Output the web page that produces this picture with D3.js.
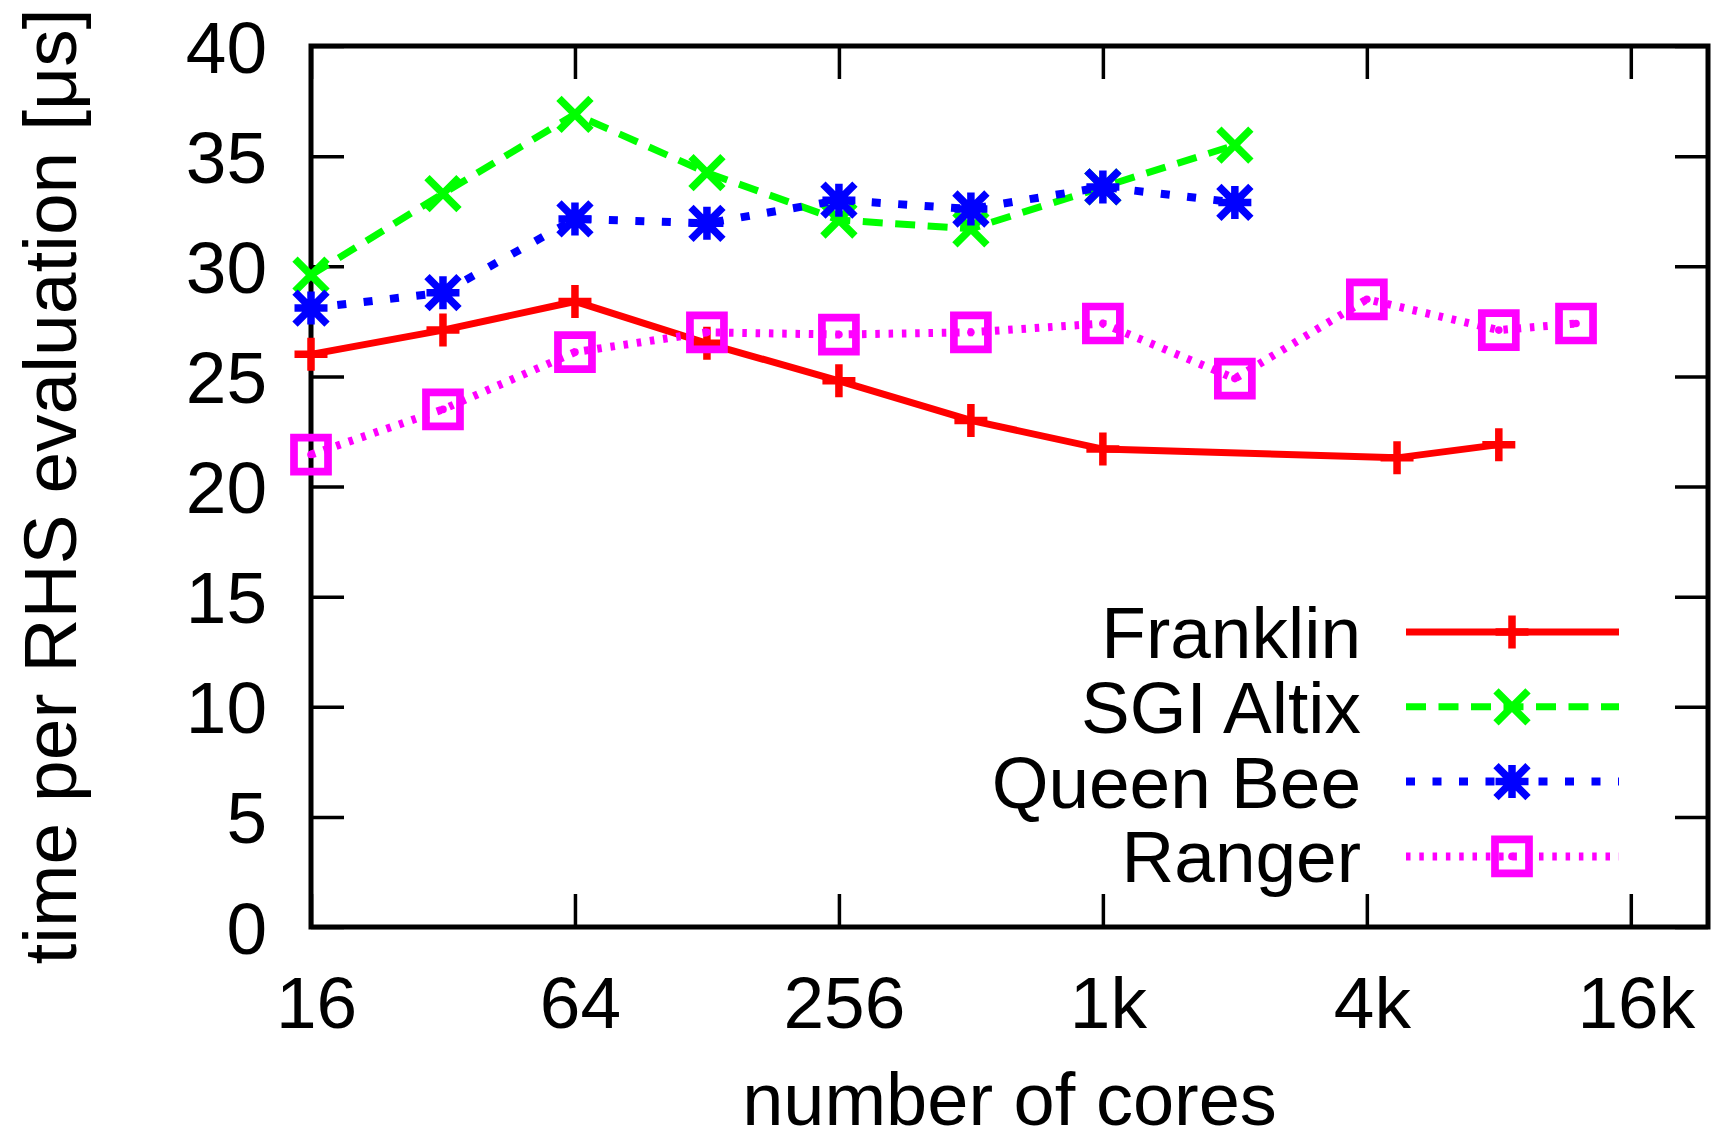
<!DOCTYPE html>
<html><head><meta charset="utf-8">
<script src="https://cdn.jsdelivr.net/npm/d3@7"></script>
<style>
body{margin:0;background:#fff}
svg{display:block}
text{font-family:"Liberation Sans",Arial,Helvetica,sans-serif;fill:#000}
</style>
</head><body>
<svg id="c" width="1715" height="1142"></svg>
<script>
// ---- data ----
const seriesNames = ["Franklin", "SGI Altix", "Queen Bee", "Ranger"];
const franklinCores = [16, 32, 64, 128, 256, 512, 1024, 4800, 8192];
const franklinTime  = [26.0, 27.1, 28.4, 26.5, 24.8, 23.0, 21.7, 21.3, 21.9];
const altixCores = [16, 32, 64, 128, 256, 512, 1024, 2048];
const altixTime  = [29.6, 33.3, 36.9, 34.25, 32.1, 31.7, 33.6, 35.5];
const queenBeeCores = [16, 32, 64, 128, 256, 512, 1024, 2048];
const queenBeeTime  = [28.1, 28.8, 32.15, 31.95, 33.0, 32.6, 33.6, 32.9];
const rangerCores = [16, 32, 64, 128, 256, 512, 1024, 2048, 4096, 8192, 12288];
const rangerTime  = [21.45, 23.5, 26.1, 27.0, 26.9, 27.0, 27.4, 24.9, 28.5, 27.1, 27.4];
const xTickValues = [16, 64, 256, 1024, 4096, 16384];
const xTickLabels = ["16", "64", "256", "1k", "4k", "16k"];
const yTickValues = [0, 5, 10, 15, 20, 25, 30, 35, 40];
const xTitle = "number of cores";
const yTitle = "time per RHS evaluation [\u03bcs]";

// ---- layout / style ----
const L = 311, R = 1708, T = 46, B = 927;
const FS = 73;
const colors = ["#ff0000", "#00ff00", "#0000ff", "#ff00ff"];
const dashes = [null, "20,12.5", "9,17.5", "4.5,8.8"];
const lw = [7, 7, 8, 8];
const markers = ["plus", "cross", "star", "square"];

const svg = d3.select("#c");
const x = d3.scaleLog().base(2).domain([16, 24576]).range([L, R]);
const y = d3.scaleLinear().domain([0, 40]).range([B, T]);

const tick = 33;
function styleAxis(g) {
  g.select(".domain").remove();
  g.selectAll(".tick line").attr("stroke", "#000").attr("stroke-width", 3.5);
}
const fmtX = (d) => xTickLabels[xTickValues.indexOf(d)];
svg.append("g").attr("transform", `translate(0,${B})`)
  .call(d3.axisBottom(x).tickValues(xTickValues).tickFormat(fmtX).tickSize(-tick).tickSizeOuter(0))
  .call(styleAxis)
  .call(g => g.selectAll(".tick text").attr("y", 101).attr("dy", null).attr("dx", 5)
    .style("font-size", FS + "px").style("font-family", '"Liberation Sans",Arial,sans-serif').attr("fill", "#000"));
svg.append("g").attr("transform", `translate(0,${T})`)
  .call(d3.axisTop(x).tickValues(xTickValues).tickFormat("").tickSize(-tick).tickSizeOuter(0))
  .call(styleAxis);
svg.append("g").attr("transform", `translate(${L},0)`)
  .call(d3.axisLeft(y).tickValues(yTickValues).tickFormat(d3.format("d")).tickSize(-tick).tickSizeOuter(0))
  .call(styleAxis)
  .call(g => g.selectAll(".tick text").attr("x", -44).attr("dy", null).attr("y", 26)
    .style("font-size", FS + "px").style("font-family", '"Liberation Sans",Arial,sans-serif').attr("fill", "#000"));
svg.append("g").attr("transform", `translate(${R},0)`)
  .call(d3.axisRight(y).tickValues(yTickValues).tickFormat("").tickSize(-tick).tickSizeOuter(0))
  .call(styleAxis);

// border
svg.append("rect").attr("x", L).attr("y", T).attr("width", R - L).attr("height", B - T)
  .attr("fill", "none").attr("stroke", "#000").attr("stroke-width", 5);

// titles
svg.append("text").attr("x", (L + R) / 2).attr("y", 1125).attr("text-anchor", "middle")
  .style("font-size", "74px").text(xTitle);
svg.append("text").attr("transform", `translate(76,${(T + B) / 2}) rotate(-90)`).attr("text-anchor", "middle")
  .style("font-size", "75px").text(yTitle);

// markers
function markerPath(type) {
  const s = 16.5, c = 16;
  switch (type) {
    case "plus": return `M${-s},0H${s}M0,${-s}V${s}`;
    case "cross": return `M${-c},${-c}L${c},${c}M${-c},${c}L${c},${-c}`;
    case "star": return `M${-s},0H${s}M0,${-s}V${s}M${-c},${-c}L${c},${c}M${-c},${c}L${c},${-c}`;
    case "square": return `M-17,-17H17V17H-17Z`;
  }
}
function drawMarker(g, type, cx, cy, color) {
  g.append("path").attr("d", markerPath(type)).attr("transform", `translate(${cx},${cy})`)
    .attr("fill", "none").attr("stroke", color).attr("stroke-width", type === "square" ? 7.7 : 7.5)
    .attr("stroke-linecap", "butt").attr("stroke-linejoin", "miter");
  if (type === "square") {
    g.append("circle").attr("cx", cx).attr("cy", cy).attr("r", 3.8).attr("fill", color);
  }
}

const data = [
  [franklinCores, franklinTime],
  [altixCores, altixTime],
  [queenBeeCores, queenBeeTime],
  [rangerCores, rangerTime]
];
const line = d3.line().x(d => x(d[0])).y(d => y(d[1]));

data.forEach(([cores, times], i) => {
  const pts = cores.map((c, k) => [c, times[k]]);
  const g = svg.append("g");
  const p = g.append("path").attr("d", line(pts)).attr("fill", "none")
    .attr("stroke", colors[i]).attr("stroke-width", lw[i]).attr("stroke-linejoin", "miter");
  if (dashes[i]) p.attr("stroke-dasharray", dashes[i]);
  pts.forEach(d => drawMarker(g, markers[i], x(d[0]), y(d[1]), colors[i]));
});

// legend
const legY0 = 632, legDy = 74.8;
seriesNames.forEach((name, i) => {
  const yy = legY0 + i * legDy;
  const g = svg.append("g");
  g.append("text").attr("x", 1361).attr("y", yy + 26).attr("text-anchor", "end")
    .style("font-size", FS + "px").text(name);
  const p = g.append("line").attr("x1", 1406).attr("x2", 1619).attr("y1", yy).attr("y2", yy)
    .attr("stroke", colors[i]).attr("stroke-width", lw[i]);
  if (dashes[i]) p.attr("stroke-dasharray", dashes[i]);
  drawMarker(g, markers[i], 1512, yy, colors[i]);
});
</script>
</body></html>
